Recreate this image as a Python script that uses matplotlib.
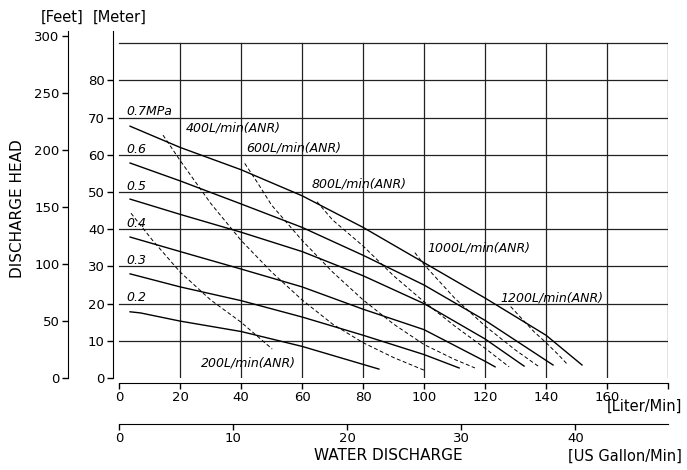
import matplotlib
matplotlib.use('Agg')
import matplotlib.pyplot as plt
import numpy as np

# pressure curves (x: L/min, y: m)
p07_x = [3.6, 20, 40, 60, 80, 100, 120, 140, 151.8]
p07_y = [67.7, 62.0, 56.0, 49.0, 40.5, 31.0, 21.5, 11.5, 3.5]
p06_x = [3.6, 20, 40, 60, 80, 100, 120, 142.3]
p06_y = [57.8, 53.0, 46.8, 40.5, 33.0, 25.0, 15.5, 3.5]
p05_x = [3.6, 20, 40, 60, 80, 100, 120, 132.8]
p05_y = [48.1, 44.0, 39.2, 34.0, 27.5, 20.0, 10.5, 3.2]
p04_x = [3.6, 20, 40, 60, 80, 100, 120, 123.3]
p04_y = [37.9, 34.0, 29.3, 24.5, 18.5, 13.0, 4.5, 3.0]
p03_x = [3.6, 20, 40, 60, 80, 100, 111.5]
p03_y = [28.0, 24.5, 20.8, 16.4, 11.5, 6.3, 2.7]
p02_x = [3.6, 7, 20, 40, 60, 85.2]
p02_y = [17.8, 17.5, 15.3, 12.5, 8.5, 2.4]

# air consumption curves
a200_x = [3.9, 11, 20, 30, 40, 50.2]
a200_y = [44.3, 37.0, 28.5, 21.0, 15.0, 7.8]
a400_x = [14.4, 20, 30, 40, 50, 60, 70, 80, 90, 100.6]
a400_y = [65.3, 58.5, 47.0, 37.0, 28.5, 21.0, 14.5, 9.5, 5.5, 1.9]
a600_x = [41.2, 45, 50, 60, 70, 80, 90, 100, 110, 116.7]
a600_y = [57.7, 53.0, 46.5, 37.0, 28.5, 21.0, 14.5, 9.0, 5.0, 2.7]
a800_x = [64.9, 70, 80, 90, 100, 110, 120, 127.9]
a800_y = [47.4, 42.5, 35.5, 27.5, 20.5, 14.0, 8.0, 3.0]
a1000_x = [97, 100, 105, 110, 120, 130, 137.4]
a1000_y = [33.7, 30.5, 26.0, 21.5, 14.0, 7.5, 3.2]
a1200_x = [128.4, 132, 136, 140, 144, 147.2]
a1200_y = [19.2, 16.0, 12.5, 9.5, 6.3, 3.5]

pressure = [(p07_x, p07_y, '0.7MPa', 70), (p06_x, p06_y, '0.6', 60),
            (p05_x, p05_y, '0.5', 50), (p04_x, p04_y, '0.4', 40),
            (p03_x, p03_y, '0.3', 30), (p02_x, p02_y, '0.2', 20)]
air = [(a200_x, a200_y), (a400_x, a400_y), (a600_x, a600_y),
       (a800_x, a800_y), (a1000_x, a1000_y), (a1200_x, a1200_y)]
air_labels = ['200L/min(ANR)', '400L/min(ANR)', '600L/min(ANR)',
              '800L/min(ANR)', '1000L/min(ANR)', '1200L/min(ANR)']
air_label_pos = [(27, 3.0), (22, 66.4), (41.6, 60.8), (63, 51.1),
                 (101, 33.9), (125, 20.7)]

liter_ticks = [0, 20, 40, 60, 80, 100, 120, 140, 160, 180]
liter_labels = ['0', '20', '40', '60', '80', '100', '120', '140', '160', '']
meter_ticks = [0, 10, 20, 30, 40, 50, 60, 70, 80]
feet_ticks = [0, 50, 100, 150, 200, 250, 300]
gallon_ticks = [0, 10, 20, 30, 40]
L_PER_GAL = 3.74

W, H = 687, 470


def rect(l, t, r, b):
    return [l / W, 1 - b / H, (r - l) / W, (b - t) / H]


fig = plt.figure(figsize=(W / 100, H / 100), dpi=100)
ax = fig.add_axes(rect(113, 31, 668, 378))
ax.set_xlim(-2, 180)
ax.set_ylim(0, 93.3)
ax.patch.set_alpha(0)

# grid
for y in range(10, 91, 10):
    ax.plot([0, 180], [y, y], color='#222222', lw=0.9)
for x in range(20, 181, 20):
    ax.plot([x, x], [0, 90], color='#222222', lw=0.9)

for xs, ys, lab, lev in pressure:
    ax.plot(xs, ys, color='black', lw=1.0)
    ax.text(2.3, lev + 0.6, lab, fontsize=9, fontstyle='italic', va='baseline')

for (xs, ys), lab, (tx, ty) in zip(air, air_labels, air_label_pos):
    ax.plot(xs, ys, color='black', lw=0.7, linestyle=(0, (4, 2.5)))
    ax.text(tx, ty, lab, fontsize=9, fontstyle='italic', va='baseline')

for s in ['top', 'right']:
    ax.spines[s].set_visible(False)
ax.spines['bottom'].set_position(('outward', 3.6))
ax.spines['bottom'].set_bounds(0, 180)
ax.set_xticks(liter_ticks)
ax.set_xticklabels(liter_labels)
ax.set_yticks(meter_ticks)
ax.tick_params(direction='out', length=4, width=1, labelsize=9.5, pad=2)

# gallons axis
axg = fig.add_axes(rect(113, 423, 668, 424))
axg.set_xlim(-2 / L_PER_GAL, 180 / L_PER_GAL)
axg.set_yticks([])
for s in ['top', 'right', 'left']:
    axg.spines[s].set_visible(False)
axg.spines['bottom'].set_bounds(0, 180 / L_PER_GAL)
axg.set_xticks(gallon_ticks)
axg.tick_params(direction='out', length=4, width=1, labelsize=9.5, pad=2)
axg.patch.set_alpha(0)

# feet axis
axf = fig.add_axes(rect(68, 31, 69, 378))
axf.set_ylim(0, 347 / 1.14)
axf.set_xticks([])
for s in ['top', 'right', 'bottom']:
    axf.spines[s].set_visible(False)
axf.set_yticks(feet_ticks)
axf.tick_params(direction='out', length=4, width=1, labelsize=9.5, pad=2)
axf.patch.set_alpha(0)

fig.text(62 / W, 1 - 17 / H, '[Feet]', fontsize=10.5, ha='center', va='center')
fig.text(120 / W, 1 - 17 / H, '[Meter]', fontsize=10.5, ha='center', va='center')
fig.text(18 / W, 1 - 209 / H, 'DISCHARGE HEAD', fontsize=11, rotation=90,
         ha='center', va='center')
fig.text(388 / W, 1 - 456 / H, 'WATER DISCHARGE', fontsize=11, ha='center', va='center')
fig.text(682 / W, 1 - 456 / H, '[US Gallon/Min]', fontsize=10.5, ha='right', va='center')
fig.text(682 / W, 1 - 406 / H, '[Liter/Min]', fontsize=10.5, ha='right', va='center')

fig.savefig('out.png', dpi=100)
